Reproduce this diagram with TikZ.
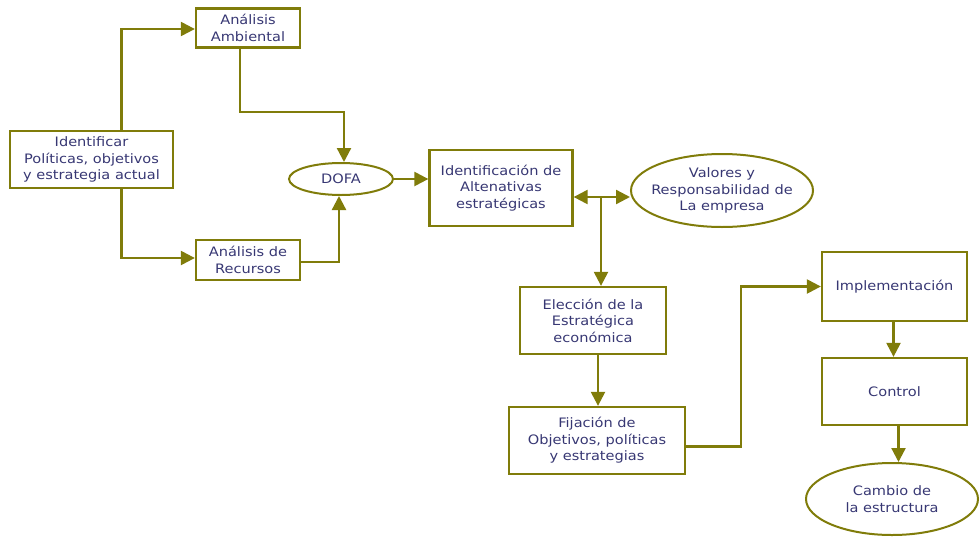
\documentclass[tikz,border=0pt]{standalone}
\usepackage{fontspec}
\setmainfont{DejaVu Sans}[FakeStretch=1.12]
\usetikzlibrary{arrows.meta,shapes.geometric}
\definecolor{olive}{RGB}{128,124,10}
\definecolor{txt}{RGB}{55,55,115}
\begin{document}
\begin{tikzpicture}[x=1pt,y=-1pt,
  every node/.style={font=\fontsize{13}{16.5}\selectfont, text=txt, align=center, inner sep=0pt},
  box/.style={draw=olive, line width=2.3pt, rectangle},
  oval/.style={draw=olive, line width=2pt, ellipse},
  arr/.style={draw=olive, line width=2.3pt, -{Triangle[length=14pt,width=14pt]}},
  darr/.style={draw=olive, line width=2.3pt, {Triangle[length=14pt,width=14pt]}-{Triangle[length=14pt,width=14pt]}},
  ln/.style={draw=olive, line width=2.3pt}]
\useasboundingbox (0,0) rectangle (980,536);
\node[box, minimum width=104pt, minimum height=39pt] (amb) at (248,28) {Análisis\\Ambiental};
\node[box, minimum width=163pt, minimum height=57pt] (ident) at (91.5,159.5) {Identificar\\Políticas, objetivos\\y estrategia actual};
\node[box, minimum width=104pt, minimum height=40pt] (rec) at (248,260) {Análisis de\\Recursos};
\node[oval, minimum width=104pt, minimum height=32pt] (dofa) at (341,179) {DOFA};
\node[box, minimum width=143pt, minimum height=76pt] (idalt) at (501,188) {Identificación de\\Altenativas\\estratégicas};
\node[oval, inner xsep=-8pt, minimum width=182pt, minimum height=73pt] (val) at (722,190.5) {Valores y\\Responsabilidad de\\La empresa};
\node[box, minimum width=146pt, minimum height=67pt] (elec) at (593,320.5) {Elección de la\\Estratégica\\económica};
\node[box, minimum width=176pt, minimum height=67pt] (fij) at (597,440.5) {Fijación de\\Objetivos, políticas\\y estrategias};
\node[box, minimum width=145pt, minimum height=69pt] (impl) at (894.5,286.5) {Implementación};
\node[box, minimum width=145pt, minimum height=67pt] (ctrl) at (894.5,391.5) {Control};
\node[oval, minimum width=172pt, minimum height=72pt] (camb) at (892,499) {Cambio de\\la estructura};
\draw[arr] ([xshift=30pt]ident.north) |- ([yshift=-1pt]amb.west);
\draw[arr] ([xshift=30pt]ident.south) |- ([yshift=2pt]rec.west);
\draw[arr] ([xshift=-8pt]amb.south) -- ++(0,63) -| ([xshift=3pt]dofa.north);
\draw[arr] ([yshift=-2pt]rec.east) -| ([xshift=-2pt]dofa.south);
\draw[arr] (dofa.east) -- (dofa.east -| idalt.west);
\draw[darr] ([yshift=-9pt]idalt.east) -- ([yshift=-9pt]idalt.east -| val.west);
\coordinate (j) at (601,197);
\draw[arr] (j) -- (j |- elec.north);
\draw[arr] ([xshift=5pt]elec.south) -- ([xshift=5pt]elec.south |- fij.north);
\draw[arr] ([yshift=-6pt]fij.east) -- ++(55,0) |- (impl.west);
\draw[arr] ([xshift=-1pt]impl.south) -- ([xshift=-1pt]ctrl.north);
\draw[arr] ([xshift=4pt]ctrl.south) -- ([xshift=4pt]ctrl.south |- camb.north);
\end{tikzpicture}
\end{document}
